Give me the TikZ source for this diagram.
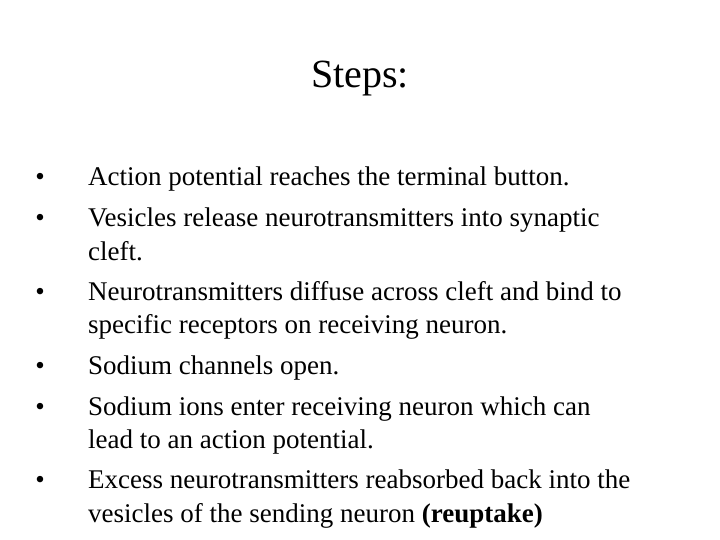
\documentclass[tikz,border=0pt]{standalone}
\usepackage{fontspec}
\setmainfont{Liberation Serif}
\begin{document}
\begin{tikzpicture}[x=1pt,y=-1pt,
  ln/.style={anchor=base west,inner sep=0pt,font=\fontsize{27}{32}\selectfont},
  bl/.style={anchor=base,inner sep=0pt,font=\fontsize{27}{32}\selectfont}]
\useasboundingbox (0,0) rectangle (720,540);
\node[anchor=base,inner sep=0pt,font=\fontsize{40}{48}\selectfont] (title) at (360,88) {Steps:};
\foreach \y in {186,226,300,374,415,488} \node[bl] at (40,\y) {•};
\node[ln] (l1) at (88,186) {Action potential reaches the terminal button.};
\node[ln] (l2) at (88,226) {Vesicles release neurotransmitters into synaptic};
\node[ln] (l3) at (88,260) {cleft.};
\node[ln] (l4) at (88,300) {Neurotransmitters diffuse across cleft and bind to};
\node[ln] (l5) at (88,333) {specific receptors on receiving neuron.};
\node[ln] (l6) at (88,374) {Sodium channels open.};
\node[ln] (l7) at (88,415) {Sodium ions enter receiving neuron which can};
\node[ln] (l8) at (88,448) {lead to an action potential.};
\node[ln] (l9) at (88,488) {Excess neurotransmitters reabsorbed back into the};
\node[ln] (l10) at (88,522) {vesicles of the sending neuron \textbf{(reuptake)}};
\end{tikzpicture}
\end{document}
